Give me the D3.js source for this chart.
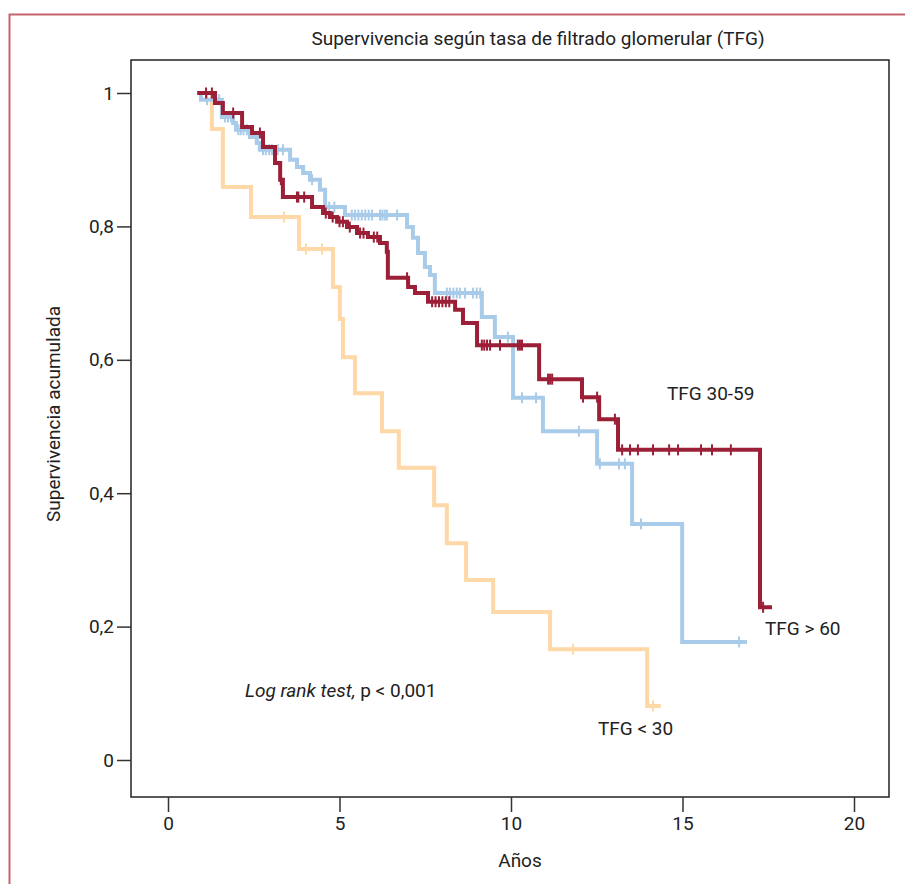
<!DOCTYPE html>
<html>
<head>
<meta charset="utf-8">
<script src="https://cdn.jsdelivr.net/npm/d3@7"></script>
<style>
  body { margin: 0; background: #fff; }
  svg text { font-family: "Liberation Sans Narrow", "Arial Narrow", "Roboto", sans-serif; fill: #222; }
</style>
</head>
<body>
<div id="chart"></div>
<script>
// step times (years) and survival after each step, censor times, end of follow-up
var tHigh = [0.95, 0.96, 1.57, 1.90, 1.98, 2.39, 2.59, 2.68, 3.56, 3.76, 3.94, 4.14, 4.43, 4.58, 5.16, 6.97, 7.14, 7.29, 7.49, 7.64, 7.78, 9.15, 9.53, 10.06, 10.93, 12.51, 13.53, 14.99];
var sHigh = [1, 0.99, 0.964, 0.955, 0.945, 0.934, 0.925, 0.915, 0.900, 0.889, 0.880, 0.870, 0.855, 0.829, 0.817, 0.799, 0.783, 0.760, 0.739, 0.727, 0.700, 0.664, 0.634, 0.543, 0.493, 0.444, 0.354, 0.177];
var cHigh = [1.14, 1.49, 1.66, 1.75, 1.84, 2.05, 2.12, 2.2, 2.3, 2.77, 2.85, 2.95, 3.03, 3.2, 3.35, 4.2, 4.7, 4.85, 5.36, 5.45, 5.55, 5.65, 5.75, 5.85, 5.95, 6.18, 6.25, 6.32, 6.38, 6.68, 8.13, 8.22, 8.32, 8.42, 8.51, 8.66, 8.89, 9.0, 9.10, 9.91, 10.32, 10.73, 11.98, 12.59, 13.15, 13.32, 13.79, 16.65];
var endHigh = 16.88;

var tMid = [0.85, 1.37, 1.60, 2.16, 2.45, 2.77, 3.12, 3.27, 3.35, 4.20, 4.52, 4.72, 4.93, 5.22, 5.51, 5.83, 6.18, 6.38, 6.41, 7.00, 7.20, 7.58, 8.37, 8.60, 9.01, 10.82, 12.07, 12.57, 13.12, 17.26];
var sMid = [1, 0.985, 0.970, 0.949, 0.940, 0.919, 0.895, 0.870, 0.844, 0.829, 0.820, 0.814, 0.807, 0.799, 0.790, 0.784, 0.775, 0.762, 0.723, 0.709, 0.700, 0.687, 0.675, 0.655, 0.622, 0.571, 0.544, 0.511, 0.465, 0.229];
var cMid = [1.11, 1.28, 1.90, 2.68, 3.29, 3.76, 3.80, 3.97, 4.6, 4.8, 5.0, 5.1, 5.3, 5.6, 5.7, 6.0, 6.1, 6.97, 7.7, 7.8, 7.9, 8.0, 8.1, 8.2, 9.15, 9.22, 9.3, 9.39, 9.68, 10.2, 10.26, 10.32, 11.08, 11.14, 11.2, 12.10, 12.51, 13.03, 13.24, 13.47, 13.70, 14.14, 14.61, 14.87, 15.54, 15.86, 16.41, 17.35];
var endMid = 17.61;

var tLow = [0.9, 1.28, 1.60, 2.42, 3.82, 4.81, 5.01, 5.10, 5.45, 6.24, 6.73, 7.76, 8.13, 8.69, 9.48, 11.14, 13.97];
var sLow = [1, 0.946, 0.859, 0.814, 0.766, 0.709, 0.661, 0.604, 0.550, 0.493, 0.438, 0.382, 0.325, 0.270, 0.222, 0.166, 0.081];
var cLow = [3.38, 4.02, 4.49, 11.81, 14.14];
var endLow = 14.37;

var xTicks = [0, 5, 10, 15, 20];
var yTicks = [0, 0.2, 0.4, 0.6, 0.8, 1];
var yTickLabels = ["0", "0,2", "0,4", "0,6", "0,8", "1"];

var width = 905, height = 884;
var svg = d3.select('#chart').append('svg')
    .attr('width', width)
    .attr('height', height);

// page border
svg.append('path')
    .attr('d', 'M9.5,' + height + 'V14.5H' + width)
    .attr('fill', 'none')
    .attr('stroke', '#c3646f')
    .attr('stroke-width', 2);

var x = d3.scaleLinear().domain([0, 20]).range([168, 854]);
var y = d3.scaleLinear().domain([0, 1]).range([760, 93]);
var box = { left: 131, right: 889, top: 60, bottom: 797 };

svg.append('rect')
    .attr('x', box.left).attr('y', box.top)
    .attr('width', box.right - box.left).attr('height', box.bottom - box.top)
    .attr('fill', 'none').attr('stroke', '#222').attr('stroke-width', 1.5);

var yAxis = svg.append('g')
    .attr('transform', 'translate(' + box.left + ',0)')
    .call(d3.axisLeft(y).tickValues(yTicks).tickSize(14).tickSizeOuter(0)
        .tickFormat(function(d, i) { return yTickLabels[i]; }));
yAxis.select('.domain').remove();
yAxis.selectAll('line').attr('stroke', '#333').attr('stroke-width', 1.5);
yAxis.selectAll('text').attr('font-size', 19).attr('x', -17).attr('fill', '#222');

var xAxis = svg.append('g')
    .attr('transform', 'translate(0,' + box.bottom + ')')
    .call(d3.axisBottom(x).tickValues(xTicks).tickSize(15).tickSizeOuter(0));
xAxis.select('.domain').remove();
xAxis.selectAll('line').attr('stroke', '#333').attr('stroke-width', 1.5);
xAxis.selectAll('text').attr('font-size', 19).attr('y', 20).attr('fill', '#222');

var line = d3.line()
    .x(function(d) { return x(d[0]); })
    .y(function(d) { return y(d[1]); })
    .curve(d3.curveStepAfter);

function drawCurve(ts, ss, cs, end, color) {
  var pts = ts.map(function(t, i) { return [t, ss[i]]; });
  pts.push([end, ss[ss.length - 1]]);
  svg.append('path')
      .datum(pts)
      .attr('d', line)
      .attr('fill', 'none')
      .attr('stroke', color)
      .attr('stroke-width', 4);
  var bis = d3.bisector(function(d) { return d; }).right;
  svg.selectAll(null)
      .data(cs)
      .enter()
      .append('line')
      .attr('x1', function(d) { return x(d); })
      .attr('x2', function(d) { return x(d); })
      .attr('y1', function(d) { return y(ss[bis(ts, d) - 1]) - 5.5; })
      .attr('y2', function(d) { return y(ss[bis(ts, d) - 1]) + 5.5; })
      .attr('stroke', color)
      .attr('stroke-width', 2);
}

drawCurve(tLow, sLow, cLow, endLow, '#fed8a6');
drawCurve(tHigh, sHigh, cHigh, endHigh, '#a8cbea');
drawCurve(tMid, sMid, cMid, endMid, '#9b1f37');

svg.append('text')
    .attr('x', 538).attr('y', 45)
    .attr('text-anchor', 'middle')
    .attr('font-size', 19)
    .text('Supervivencia según tasa de filtrado glomerular (TFG)');

svg.append('text')
    .attr('transform', 'translate(60,414)rotate(-90)')
    .attr('text-anchor', 'middle')
    .attr('font-size', 19)
    .text('Supervivencia acumulada');

svg.append('text')
    .attr('x', 520).attr('y', 867)
    .attr('text-anchor', 'middle')
    .attr('font-size', 19)
    .text('Años');

var lr = svg.append('text')
    .attr('x', 245).attr('y', 697)
    .attr('font-size', 19);
lr.append('tspan').attr('font-style', 'italic').text('Log rank test,');
lr.append('tspan').text(' p < 0,001');

svg.append('text').attr('x', 667).attr('y', 400).attr('font-size', 19).text('TFG 30-59');
svg.append('text').attr('x', 765).attr('y', 635).attr('font-size', 19).text('TFG > 60');
svg.append('text').attr('x', 598).attr('y', 735).attr('font-size', 19).text('TFG < 30');
</script>
</body>
</html>
